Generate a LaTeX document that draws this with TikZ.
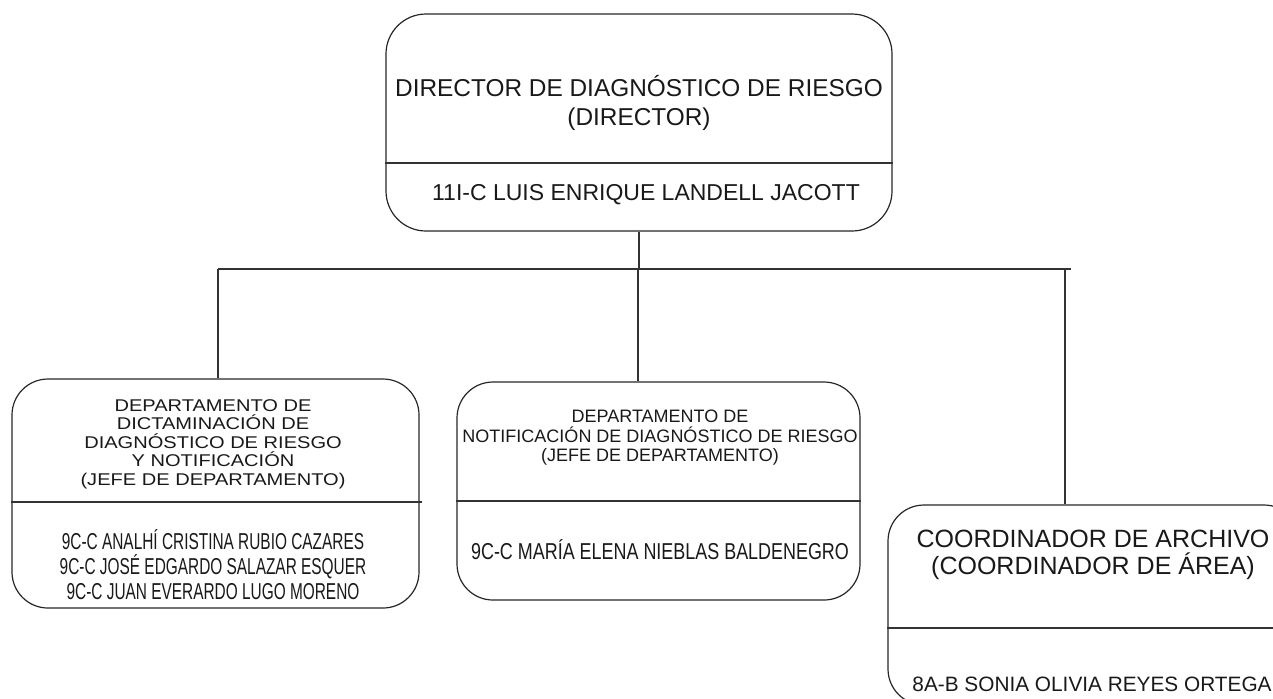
\documentclass[tikz,border=0pt]{standalone}
\usepackage{fontspec}
\setmainfont{Liberation Sans}
\newfontfamily\angosta[FakeStretch=0.67]{Liberation Sans}
\newfontfamily\angostab[FakeStretch=0.78]{Liberation Sans}
\newfontfamily\ancha[FakeStretch=1.18]{Liberation Sans}

\begin{document}
\begin{tikzpicture}[x=0.5pt,y=-0.5pt,
  caja/.style={draw=black!85,line width=0.6pt,rounded corners=18pt,inner sep=0pt},
  linea/.style={draw=black!80,line width=0.6pt},
  txt/.style={align=center,inner sep=0pt,text=black!90}]
\useasboundingbox (0,0) rectangle (1273,698);
\clip (0,0) rectangle (1273,698);
% cajas
\node[caja,rounded corners=20pt,minimum width=253pt,minimum height=108.5pt] (dir) at (639,122.5) {};
\node[caja,minimum width=203.5pt,minimum height=114.5pt] (dict) at (215.5,493.5) {};
\node[caja,minimum width=201.5pt,minimum height=109pt] (notif) at (658.5,491) {};
\node[caja,minimum width=206pt,minimum height=100pt] (arch) at (1094,605) {};
\draw[linea] (dir.west |- 0,163) -- (dir.east |- 0,163);
\draw[linea] (dict.west |- 0,502) -- ([xshift=1pt]dict.east |- 0,502);
\draw[linea] (notif.west |- 0,501) -- (notif.east |- 0,501);
\draw[linea] (arch.west |- 0,628) -- (arch.east |- 0,628);
% lineas
\coordinate (b-dict) at (218,269);
\coordinate (b-notif) at (638,269);
\coordinate (b-arch) at (1065,269);
\coordinate (b-fin) at (1071,269);
\draw[linea] (dir.south) -- (dir.south |- b-dict);
\draw[linea] (b-dict) -- (b-fin);
\foreach \n in {dict,notif,arch}
\draw[linea] (b-\n) -- (b-\n |- \n.north);
% textos
\node[txt,font=\fontsize{12.2}{14.5}\selectfont] (dir-t) at (639,103) {DIRECTOR DE DIAGNÓSTICO DE RIESGO\\(DIRECTOR)};
\node[txt,font=\fontsize{11.5}{13}\selectfont] (dir-n) at (646,195) {11I-C LUIS ENRIQUE LANDELL JACOTT};
\node[txt,font=\ancha\fontsize{8.5}{9.25}\selectfont] (dict-t) at (213,444) {DEPARTAMENTO DE\\DICTAMINACIÓN DE\\DIAGNÓSTICO DE RIESGO\\Y NOTIFICACIÓN\\(JEFE DE DEPARTAMENTO)};
\node[txt,font=\angosta\fontsize{11.5}{12.5}\selectfont] (dict-n) at (213,565) {9C-C ANALHÍ CRISTINA RUBIO CAZARES\\9C-C JOSÉ EDGARDO SALAZAR ESQUER\\9C-C JUAN EVERARDO LUGO MORENO};
\node[txt,font=\fontsize{9}{9.75}\selectfont] (notif-t) at (660,438) {DEPARTAMENTO DE\\NOTIFICACIÓN DE DIAGNÓSTICO DE RIESGO\\(JEFE DE DEPARTAMENTO)};
\node[txt,font=\angostab\fontsize{11.5}{13}\selectfont] (notif-n) at (660,550) {9C-C MARÍA ELENA NIEBLAS BALDENEGRO};
\node[txt,font=\fontsize{12.5}{13.5}\selectfont] (arch-t) at (1093,555) {COORDINADOR DE ARCHIVO\\(COORDINADOR DE ÁREA)};
\node[txt,font=\fontsize{10.4}{12}\selectfont] (arch-n) at (1092,684) {8A-B SONIA OLIVIA REYES ORTEGA};
\end{tikzpicture}
\end{document}
